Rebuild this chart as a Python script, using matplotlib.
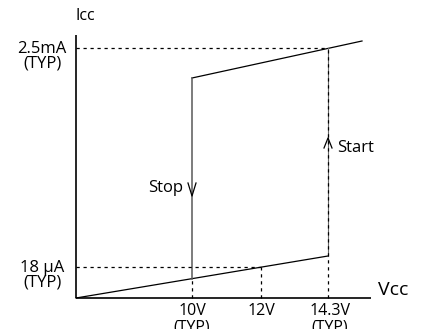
import numpy as np
import matplotlib.pyplot as plt

plt.rcParams['font.family'] = ['Open Sans', 'DejaVu Sans']

# schematic positions (not to scale) of the Vcc thresholds
vcc_pos = [116, 185, 252]
vcc_labels = ['10V\n(TYP)', '12V', '14.3V\n(TYP)']

# supply current branches: standby (below start) and operating
low_x = [0, 252]
low_y = [0, 42]
high_x = [116, 286]
high_y = [220, 257]

icc_labels = ['18 µA\n(TYP)', '2.5mA\n(TYP)']

fig = plt.figure(figsize=(4.24, 3.29), dpi=100)
ax = fig.add_axes([0, 0, 1, 1])
ax.set_xlim(-76, 348)
ax.set_ylim(-31, 298)
ax.axis('off')

v_stop, v_typ, v_start = vcc_pos
lo_stop = np.interp(v_stop, low_x, low_y)
lo_typ = np.interp(v_typ, low_x, low_y)
lo_start = np.interp(v_start, low_x, low_y)
hi_stop = np.interp(v_stop, high_x, high_y)
hi_start = np.interp(v_start, high_x, high_y)

# axes
ax.plot([0, 0], [0, 263], color='black', lw=1.2, solid_capstyle='butt')
ax.plot([0, 295], [0, 0], color='black', lw=1.2, solid_capstyle='butt')
ax.text(9, 282, 'Icc', fontsize=11.5, ha='center', va='center')
ax.text(302, 8, 'Vcc', fontsize=14, ha='left', va='center')

# branches
ax.plot(low_x, low_y, color='black', lw=0.9)
ax.plot(high_x, high_y, color='black', lw=0.9)
ax.plot([v_stop, v_stop], [lo_stop, hi_stop], color='0.35', lw=1.1)
ax.plot([v_start, v_start], [lo_start, hi_start], color='0.4', lw=0.8)

# guide lines
dash = dict(color='black', lw=0.9, dashes=(2.6, 3))
ax.plot([0, v_start], [hi_start, hi_start], **dash)
ax.plot([0, v_typ], [lo_typ, lo_typ], **dash)
ax.plot([v_stop, v_stop], [0, lo_stop], **dash)
ax.plot([v_typ, v_typ], [0, lo_typ], **dash)
ax.plot([v_start, v_start], [0, hi_start], **dash)

# direction arrows
ax.plot([v_stop - 4, v_stop, v_stop + 4], [115, 102, 115], color='black', lw=0.9)
ax.text(v_stop - 9, 110, 'Stop', fontsize=12, ha='right', va='center')
ax.plot([v_start - 4, v_start, v_start + 4], [150, 160, 150], color='black', lw=0.9)
ax.text(v_start + 9, 150, 'Start', fontsize=12, ha='left', va='center')

# level and threshold labels
ax.text(-34, lo_typ - 8, icc_labels[0], fontsize=12, ha='center', va='center',
        linespacing=0.9)
ax.text(-34, hi_start - 8, icc_labels[1], fontsize=12, ha='center', va='center',
        linespacing=0.9)
for pos, lab in zip(vcc_pos, vcc_labels):
    ax.text(pos + (2 if pos == v_start else 0), -5, lab, fontsize=11.5,
            ha='center', va='top', linespacing=1.05)

fig.savefig('out.png', dpi=100)
